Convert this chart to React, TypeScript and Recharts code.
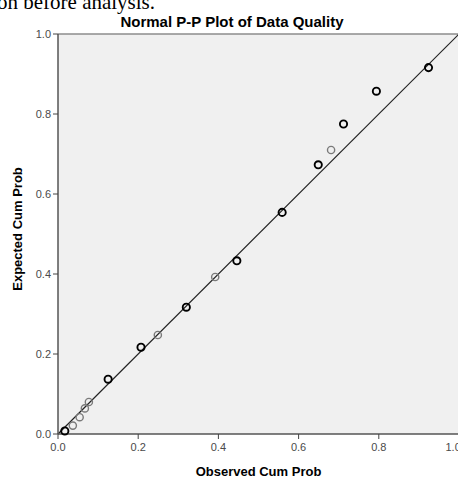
import { ScatterChart, Scatter, XAxis, YAxis, CartesianGrid, ReferenceLine } from 'recharts';

// observed vs expected cumulative probabilities
const darkObserved = [0.017, 0.125, 0.207, 0.32, 0.446, 0.559, 0.649, 0.712, 0.794, 0.924];
const darkExpected = [0.0075, 0.137, 0.217, 0.317, 0.433, 0.554, 0.673, 0.775, 0.857, 0.916];
const greyObserved = [0.037, 0.054, 0.067, 0.077, 0.249, 0.392, 0.681];
const greyExpected = [0.021, 0.042, 0.064, 0.08, 0.2475, 0.3925, 0.71];

const axisTicks = [0, 0.2, 0.4, 0.6, 0.8, 1];

const darkData = darkObserved.map((x, i) => ({ x, y: darkExpected[i] }));
const greyData = greyObserved.map((x, i) => ({ x, y: greyExpected[i] }));

const FONT = '"Liberation Sans", Arial, sans-serif';

const ringShape = (color: string, width: number) => (props: any) => (
  <circle cx={props.cx} cy={props.cy} r={3.6} fill="none" stroke={color} strokeWidth={width} />
);

export default function App() {
  return (
    <div style={{ position: 'absolute', top: 0, left: 0, width: 458, height: 479, overflow: 'hidden', background: '#fff' }}>
      <svg width={458} height={40} style={{ position: 'absolute', top: 0, left: 0 }}>
        <text x={-3} y={9} fontFamily='"Liberation Serif", "Times New Roman", serif' fontSize={21} fill="#000">
          on before analysis.
        </text>
        <text x={232} y={27} textAnchor="middle" fontFamily={FONT} fontWeight="bold" fontSize={15} fill="#000">
          Normal P-P Plot of Data Quality
        </text>
      </svg>
      <div style={{ position: 'absolute', top: 0, left: 0 }}>
        <ScatterChart width={460} height={479} margin={{ top: 34, right: 1, bottom: 5, left: 0 }}>
          <CartesianGrid fill="#f0f0f0" horizontal={false} vertical={false} stroke="none" />
          <XAxis
            type="number"
            dataKey="x"
            domain={[0, 1]}
            ticks={axisTicks}
            tickFormatter={(v: number) => v.toFixed(1)}
            height={40}
            axisLine={{ stroke: '#555', strokeWidth: 1.5 }}
            tickLine={{ stroke: '#444' }}
            tickSize={5}
            tickMargin={4}
            tick={{ fill: '#4a4a4a', fontSize: 11, fontFamily: FONT }}
            label={{
              value: 'Observed Cum Prob',
              position: 'insideBottom',
              offset: -2,
              style: { fontFamily: FONT, fontWeight: 'bold', fontSize: 13, fill: '#000' },
            }}
          />
          <YAxis
            type="number"
            dataKey="y"
            domain={[0, 1]}
            ticks={axisTicks}
            tickFormatter={(v: number) => v.toFixed(1)}
            width={58}
            axisLine={{ stroke: '#555', strokeWidth: 1.5 }}
            tickLine={{ stroke: '#444' }}
            tickSize={5}
            tickMargin={2}
            tick={{ fill: '#4a4a4a', fontSize: 11, fontFamily: FONT }}
            label={{
              value: 'Expected Cum Prob',
              angle: -90,
              position: 'insideLeft',
              offset: 17,
              dy: -5,
              style: { textAnchor: 'middle', fontFamily: FONT, fontWeight: 'bold', fontSize: 13, fill: '#000' },
            }}
          />
          <ReferenceLine y={1} stroke="#8c8c8c" strokeWidth={1.5} />
          <ReferenceLine
            segment={[{ x: 0, y: 0 }, { x: 1, y: 1 }]}
            stroke="#222"
            strokeWidth={1.2}
          />
          <Scatter data={greyData} shape={ringShape('#7a7a7a', 1.4)} isAnimationActive={false} />
          <Scatter data={darkData} shape={ringShape('#000', 1.9)} isAnimationActive={false} />
        </ScatterChart>
      </div>
    </div>
  );
}
